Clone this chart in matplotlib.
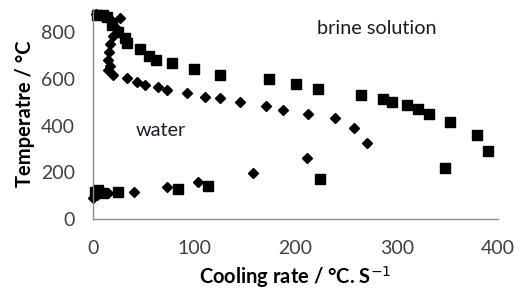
import matplotlib.pyplot as plt

# brine solution (squares)
brine_rate = [4, 10, 14, 19, 25, 32, 34, 46, 55, 62, 78, 100, 125, 174, 200, 222,
              265, 286, 295, 310, 321, 332, 353, 379, 390, 348, 224,
              2, 5, 10, 25, 84, 114]
brine_temp = [873, 873, 864, 830, 800, 775, 753, 727, 697, 680, 667, 642, 616, 599, 578, 556,
              530, 513, 501, 488, 471, 449, 415, 359, 291, 218, 171,
              116, 124, 111, 116, 128, 141]

# water (diamonds)
water_rate = [3, 11, 19, 27, 23, 20, 17, 16, 15, 17, 15, 20, 34, 43, 51, 64, 73, 93,
              111, 125, 145, 171, 188, 212, 239, 258, 271, 211, 158,
              0, 4, 15, 40, 73, 104]
water_temp = [877, 869, 851, 860, 817, 783, 749, 715, 680, 655, 638, 616, 603, 586, 573, 565, 552, 539,
              522, 518, 501, 484, 466, 449, 432, 389, 325, 261, 197,
              90, 103, 111, 116, 137, 158]

x_ticks = [0, 100, 200, 300, 400]
y_ticks = [0, 200, 400, 600, 800]

plt.rcParams['font.family'] = ['Lato', 'DejaVu Sans']

fig = plt.figure(figsize=(5.14, 2.93), dpi=100, facecolor="white")
ax = fig.add_axes([0.181, 0.2526, 0.788, 0.7164])

ax.plot(water_rate, water_temp, linestyle="none", marker="D", markersize=5.5,
        color="black", clip_on=False)
ax.plot(brine_rate, brine_temp, linestyle="none", marker="s", markersize=7.5,
        color="black", clip_on=False)

ax.set_xlim(0, 400)
ax.set_ylim(0, 900)
ax.set_xticks(x_ticks)
ax.set_yticks(y_ticks)
ax.tick_params(length=0, labelsize=14, colors="#404040")
ax.tick_params(axis="x", pad=15)
ax.tick_params(axis="y", pad=13)

for side in ["top", "right"]:
    ax.spines[side].set_visible(False)
for side in ["left", "bottom"]:
    ax.spines[side].set_color("#8c8c8c")
    ax.spines[side].set_linewidth(1)

ax.set_xlabel("Cooling rate / \u00b0C. S$^{-1}$", fontsize=14.5, fontweight="bold", labelpad=5)
ax.set_ylabel("Temperatre / \u00b0C", fontsize=14.5, fontweight="bold", labelpad=4)

ax.text(280, 817, "brine solution", fontsize=14.3, color="#1a1a2e", ha="center", va="center")
ax.text(67, 381, "water", fontsize=14.3, color="#1a1a2e", ha="center", va="center")

plt.savefig("out.png", dpi=100, facecolor="white")
